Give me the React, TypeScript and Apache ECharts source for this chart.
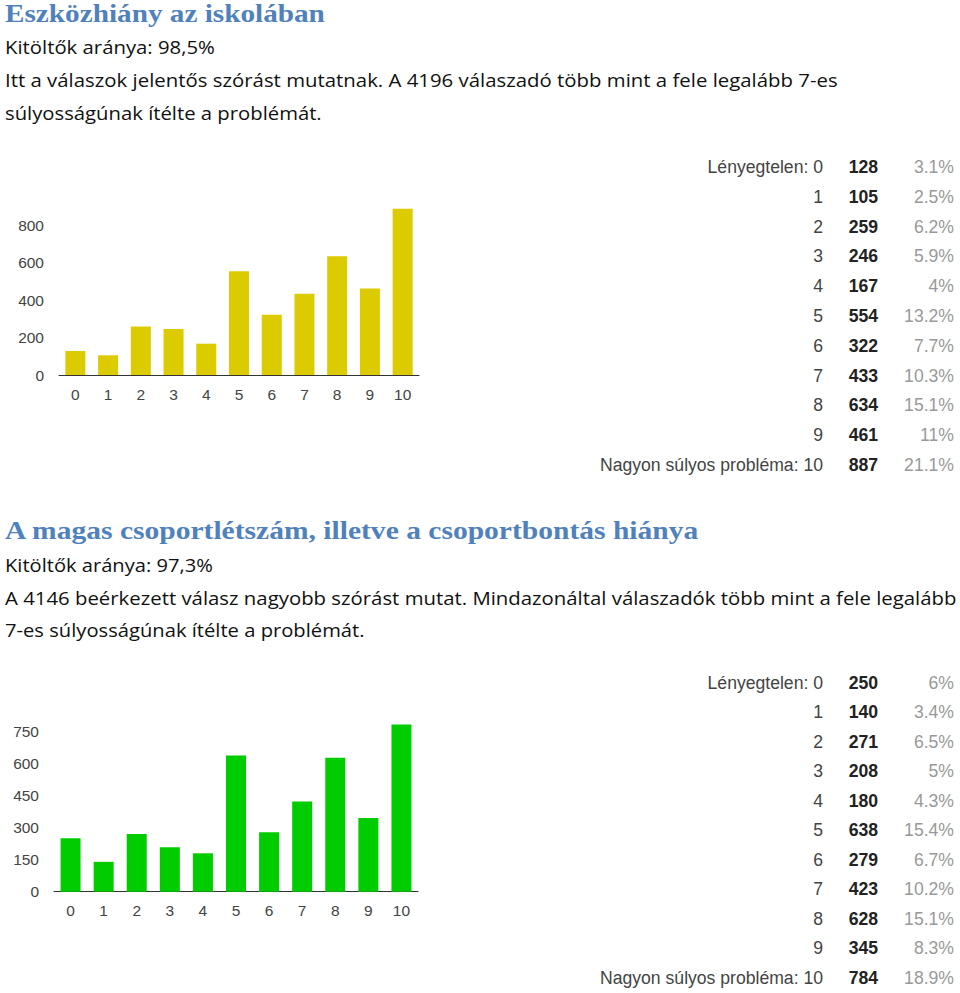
import React, { useEffect, useRef } from "react";
import * as echarts from "echarts";

const categories = ["0", "1", "2", "3", "4", "5", "6", "7", "8", "9", "10"];
const counts1 = [128, 105, 259, 246, 167, 554, 322, 433, 634, 461, 887];
const pct1 = ["3.1%", "2.5%", "6.2%", "5.9%", "4%", "13.2%", "7.7%", "10.3%", "15.1%", "11%", "21.1%"];
const counts2 = [250, 140, 271, 208, 180, 638, 279, 423, 628, 345, 784];
const pct2 = ["6%", "3.4%", "6.5%", "5%", "4.3%", "15.4%", "6.7%", "10.2%", "15.1%", "8.3%", "18.9%"];
const lowLabel = "Lényegtelen";
const highLabel = "Nagyon súlyos probléma";

const title1 = "Eszközhiány az iskolában";
const sub1 = "Kitöltők aránya: 98,5%";
const body1a = "Itt a válaszok jelentős szórást mutatnak. A 4196 válaszadó több mint a fele legalább 7-es";
const body1b = "súlyosságúnak ítélte a problémát.";
const title2 = "A magas csoportlétszám, illetve a csoportbontás hiánya";
const sub2 = "Kitöltők aránya: 97,3%";
const body2a = "A 4146 beérkezett válasz nagyobb szórást mutat. Mindazonáltal válaszadók több mint a fele legalább";
const body2b = "7-es súlyosságúnak ítélte a problémát.";

const TITLE_FONT = '"Liberation Serif", "DejaVu Serif", serif';
const BODY_FONT = '"Open Sans", "Noto Sans", sans-serif';
const CHART_FONT = '"Liberation Sans", Arial, sans-serif';
const TABLE_SIZE = 17.6;

let measureCtx: CanvasRenderingContext2D | null = null;
function fitScale(text: string, font: string, width: number): number {
  if (!measureCtx) measureCtx = document.createElement("canvas").getContext("2d");
  if (!measureCtx) return 1;
  measureCtx.font = font;
  const w = measureCtx.measureText(text).width;
  return w > 0 ? width / w : 1;
}

function fittedText(text: string, x: number, y: number, width: number, size: number, weight: string, family: string, color: string) {
  const font = `${weight} ${size}px ${family}`;
  return {
    type: "text",
    x,
    y,
    scaleX: fitScale(text, font, width),
    style: {
      text,
      x: 0,
      y: 0,
      fill: color,
      fontSize: size,
      fontWeight: weight,
      fontFamily: family,
      verticalAlign: "middle",
      align: "left",
    },
  };
}

function tableTexts(counts: number[], pcts: string[], y0: number, step: number) {
  const els: any[] = [];
  categories.forEach((c, i) => {
    const y = y0 + i * step;
    const label = i === 0 ? `${lowLabel}: ${c}` : i === categories.length - 1 ? `${highLabel}: ${c}` : c;
    els.push({
      type: "text",
      x: 823,
      y,
      style: { text: label, fill: "#444", fontSize: TABLE_SIZE, fontFamily: CHART_FONT, align: "right", verticalAlign: "middle" },
    });
    els.push({
      type: "text",
      x: 878,
      y,
      style: { text: String(counts[i]), fill: "#222", fontSize: TABLE_SIZE, fontWeight: "bold", fontFamily: CHART_FONT, align: "right", verticalAlign: "middle" },
    });
    els.push({
      type: "text",
      x: 954,
      y,
      style: { text: pcts[i], fill: "#999", fontSize: TABLE_SIZE, fontFamily: CHART_FONT, align: "right", verticalAlign: "middle" },
    });
  });
  return els;
}

export default function App() {
  const ref = useRef<HTMLDivElement>(null);
  useEffect(() => {
    if (!ref.current) return;
    const chart = echarts.init(ref.current, null, { renderer: "svg" });
    const axisLabel = { color: "#444", fontSize: 15.5, fontFamily: CHART_FONT };
    const option: any = {
      animation: false,
      backgroundColor: "#fff",
      grid: [
        { left: 59, top: 225, width: 360, height: 150 },
        { left: 54, top: 731.7, width: 364, height: 160 },
      ],
      xAxis: [0, 1].map((g) => ({
        type: "category",
        gridIndex: g,
        data: categories,
        axisLine: { lineStyle: { color: "#333", width: 1 } },
        axisTick: { show: false },
        axisLabel: { ...axisLabel, margin: 11 },
      })),
      yAxis: [
        {
          type: "value",
          gridIndex: 0,
          min: 0,
          max: 800,
          interval: 200,
          splitLine: { show: false },
          axisLine: { show: false },
          axisTick: { show: false },
          axisLabel: { ...axisLabel, margin: 15 },
        },
        {
          type: "value",
          gridIndex: 1,
          min: 0,
          max: 750,
          interval: 150,
          splitLine: { show: false },
          axisLine: { show: false },
          axisTick: { show: false },
          axisLabel: { ...axisLabel, margin: 15 },
        },
      ],
      series: [
        {
          type: "bar",
          xAxisIndex: 0,
          yAxisIndex: 0,
          data: counts1,
          barWidth: 20,
          clip: false,
          itemStyle: { color: "#DCCB00" },
        },
        {
          type: "bar",
          xAxisIndex: 1,
          yAxisIndex: 1,
          data: counts2,
          barWidth: 20,
          clip: false,
          itemStyle: { color: "#00CC00" },
        },
      ],
      graphic: [
        fittedText(title1, 5, 14, 320, 25, "bold", TITLE_FONT, "#4F81BD"),
        fittedText(sub1, 5, 47, 210, 18, "normal", BODY_FONT, "#111"),
        fittedText(body1a, 5, 80, 833, 18, "normal", BODY_FONT, "#111"),
        fittedText(body1b, 5, 113, 317, 18, "normal", BODY_FONT, "#111"),
        fittedText(title2, 5, 531, 695, 25, "bold", TITLE_FONT, "#4F81BD"),
        fittedText(sub2, 5, 565, 208, 18, "normal", BODY_FONT, "#111"),
        fittedText(body2a, 5, 598, 952, 18, "normal", BODY_FONT, "#111"),
        fittedText(body2b, 5, 630, 360, 18, "normal", BODY_FONT, "#111"),
        ...tableTexts(counts1, pct1, 167, 29.8),
        ...tableTexts(counts2, pct2, 682.5, 29.55),
      ],
    };
    chart.setOption(option);
    return () => chart.dispose();
  }, []);
  return <div ref={ref} style={{ position: "absolute", left: 0, top: 0, width: 960, height: 993 }} />;
}
